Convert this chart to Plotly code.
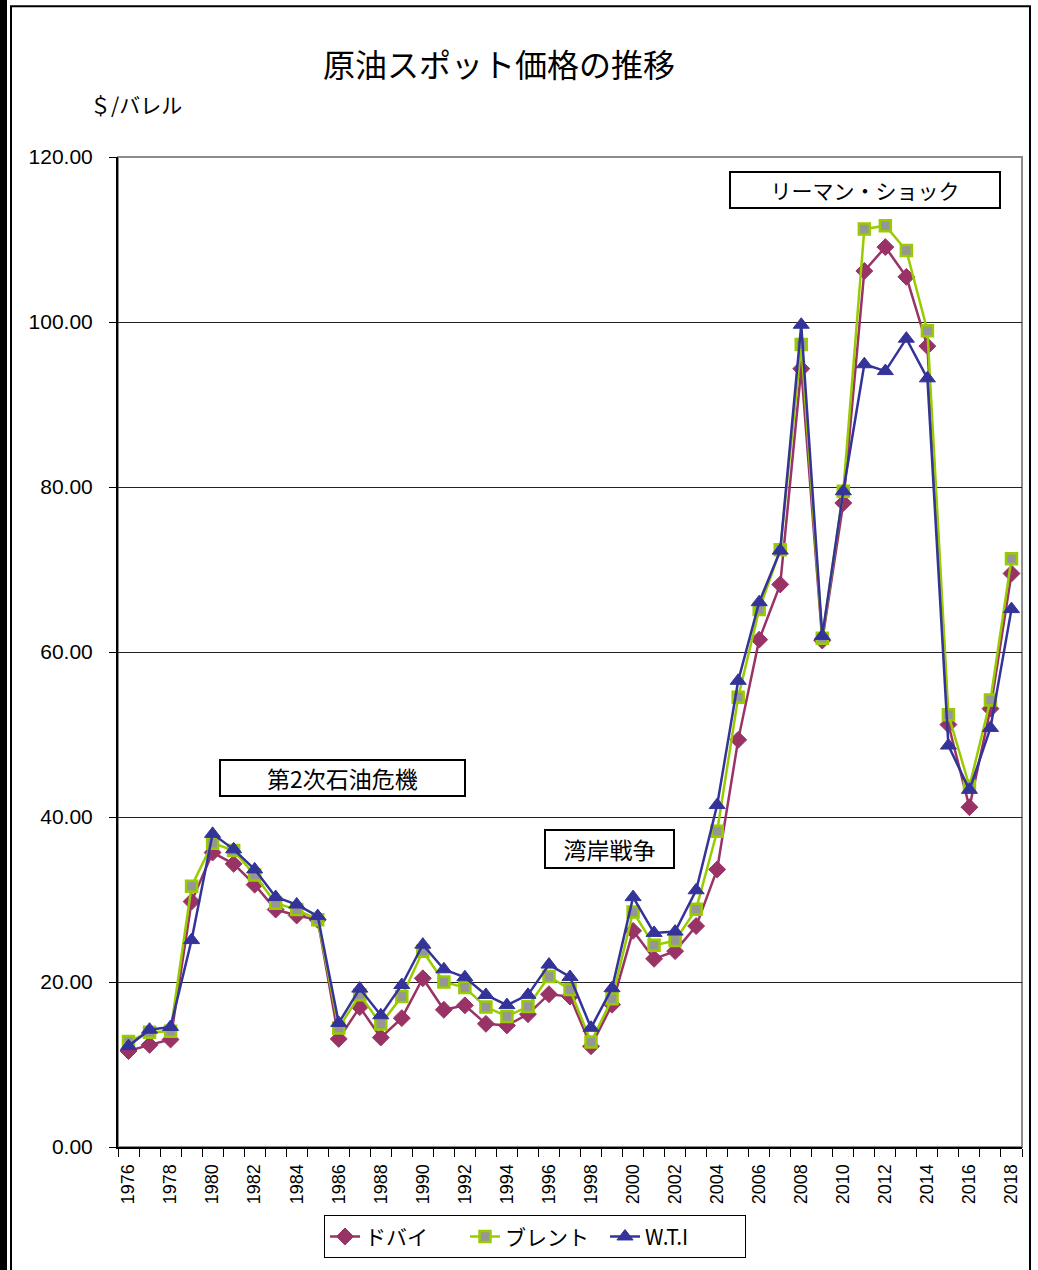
import plotly.graph_objects as go

years = list(range(1976, 2019))
dubai = [11.63, 12.38, 13.03, 29.75, 35.69, 34.32, 31.80, 28.78, 28.06, 27.53,
         13.10, 16.95, 13.27, 15.62, 20.45, 16.63, 17.17, 14.93, 14.74, 16.10,
         18.52, 18.23, 12.21, 17.25, 26.20, 22.81, 23.74, 26.78, 33.64, 49.35,
         61.50, 68.19, 94.34, 61.39, 78.06, 106.18, 109.08, 105.47, 97.07, 51.20,
         41.19, 53.13, 69.51]
brent = [12.80, 13.92, 14.02, 31.61, 36.83, 35.93, 32.97, 29.55, 28.78, 27.56,
         14.43, 18.44, 14.92, 18.23, 23.73, 20.00, 19.32, 16.97, 15.82, 17.02,
         20.67, 19.09, 12.72, 17.97, 28.50, 24.44, 25.02, 28.83, 38.27, 54.52,
         65.14, 72.39, 97.26, 61.67, 79.50, 111.26, 111.67, 108.66, 98.95, 52.39,
         43.73, 54.19, 71.31]
wti = [12.23, 14.22, 14.55, 25.08, 37.96, 36.08, 33.65, 30.30, 29.39, 27.99,
       15.04, 19.20, 15.97, 19.64, 24.53, 21.54, 20.58, 18.43, 17.20, 18.44,
       22.11, 20.61, 14.45, 19.25, 30.29, 25.95, 26.11, 31.12, 41.45, 56.51,
       66.04, 72.29, 99.67, 61.95, 79.48, 94.88, 94.05, 97.98, 93.17, 48.66,
       43.29, 50.80, 65.20]
label_years = list(range(1976, 2019, 2))
series_names = ["ドバイ", "ブレント", "W.T.I"]

W, H = 1038, 1270
L, R, T, B = 118, 1022, 157, 1149


def px(x):
    return (x - L) / (R - L)


def py(y):
    return (B - y) / (B - T)


JP = "Noto Sans CJK JP"
NUM = "Liberation Sans Narrow, Liberation Sans, Arial"

fig = go.Figure()
fig.add_trace(go.Scatter(
    x=years, y=dubai, name=series_names[0], mode="lines+markers",
    line=dict(color="#993366", width=2.5),
    marker=dict(symbol="diamond", size=13, color="#993366",
                line=dict(color="#993366", width=1))))
fig.add_trace(go.Scatter(
    x=years, y=brent, name=series_names[1], mode="lines+markers",
    line=dict(color="#99CC00", width=2.5),
    marker=dict(symbol="square", size=11, color="#969696",
                line=dict(color="#99CC00", width=2.5))))
fig.add_trace(go.Scatter(
    x=years, y=wti, name=series_names[2], mode="lines+markers",
    line=dict(color="#333399", width=2.5),
    marker=dict(symbol="triangle-up", size=14, color="#333399",
                line=dict(color="#333399", width=1))))

fig.update_layout(
    width=W, height=H,
    margin=dict(l=L, r=W - R, t=T, b=H - B),
    paper_bgcolor="white", plot_bgcolor="white",
    showlegend=True,
    legend=dict(orientation="h", x=px(535), xanchor="center",
                y=py(1239), yanchor="middle",
                bordercolor="black", borderwidth=1, bgcolor="white",
                font=dict(family=JP, size=21, color="black"),
                entrywidth=95, entrywidthmode="pixels", tracegroupgap=0),
    font=dict(family=JP, color="black"),
)

fig.update_xaxes(
    range=[1975.5, 2018.5], tickmode="array",
    tickvals=label_years, ticktext=[str(y) for y in label_years],
    tickangle=-90, ticks="", ticklabelstandoff=8,
    tickfont=dict(family=NUM, size=18, color="black"),
    showline=True, linecolor="black", linewidth=2, showgrid=False,
    zeroline=False,
    minor=dict(tick0=1975.5, dtick=1, ticks="outside", ticklen=8,
               tickcolor="black", tickwidth=1, showgrid=False),
)
fig.update_yaxes(
    range=[0, 120], dtick=20, tickformat=".2f",
    ticks="outside", ticklen=7, tickcolor="black",
    ticklabelstandoff=12,
    tickfont=dict(family=NUM, size=21, color="black"),
    showline=True, linecolor="black", linewidth=2,
    showgrid=True, gridcolor="#222222", gridwidth=1, zeroline=False,
)

shapes = [
    dict(type="rect", xref="paper", yref="paper", x0=0, x1=1, y0=0, y1=1,
         line=dict(color="#8c8c8c", width=2), layer="below"),
    dict(type="rect", xref="paper", yref="paper",
         x0=px(11), x1=px(1030), y0=py(1290), y1=py(6),
         line=dict(color="black", width=2)),
    dict(type="rect", xref="paper", yref="paper",
         x0=px(0), x1=px(7), y0=py(1290), y1=py(-10),
         line=dict(width=0), fillcolor="black"),
]
fig.update_layout(shapes=shapes)

annos = [
    dict(text="原油スポット価格の推移", x=px(499), y=py(63),
         font=dict(family=JP, size=32, color="black"),
         showarrow=False, xanchor="center", yanchor="middle"),
    dict(text="＄/バレル", x=px(88), y=py(104),
         font=dict(family=JP, size=21, color="black"),
         showarrow=False, xanchor="left", yanchor="middle"),
    dict(text="リーマン・ショック", x=px(865), y=py(190), width=268, height=34,
         font=dict(family=JP, size=21, color="black"), bgcolor="white",
         bordercolor="black", borderwidth=2, borderpad=0,
         showarrow=False, xanchor="center", yanchor="middle"),
    dict(text="第2次石油危機", x=px(342.5), y=py(779), width=243, height=34,
         font=dict(family=JP, size=23, color="black"), bgcolor="white",
         bordercolor="black", borderwidth=2, borderpad=0,
         showarrow=False, xanchor="center", yanchor="middle"),
    dict(text="湾岸戦争", x=px(609.5), y=py(850), width=127, height=36,
         font=dict(family=JP, size=23, color="black"), bgcolor="white",
         bordercolor="black", borderwidth=2, borderpad=0,
         showarrow=False, xanchor="center", yanchor="middle"),
]
for a in annos:
    a["xref"] = "paper"
    a["yref"] = "paper"
fig.update_layout(annotations=annos)

fig.write_html("out.html")
